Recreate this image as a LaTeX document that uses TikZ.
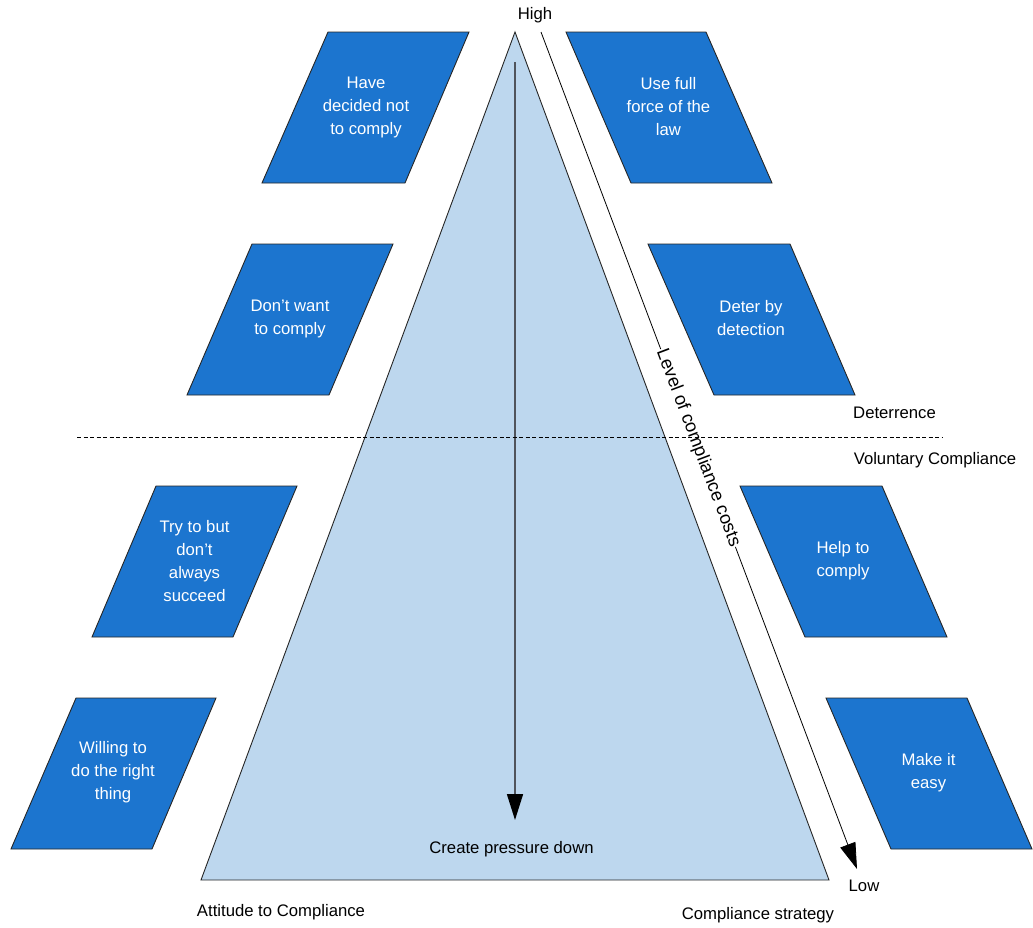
\documentclass[tikz,border=0pt]{standalone}
\usepackage{fontspec}
\setmainfont{Liberation Sans}
\usetikzlibrary{arrows.meta}
\definecolor{boxblue}{RGB}{28,117,207}
\definecolor{trifill}{RGB}{189,215,238}
\definecolor{arrowgrey}{RGB}{80,84,92}
\tikzset{
  pbox/.style={fill=boxblue,draw=black!85,line width=0.9pt,line join=miter},
  boxtext/.style={text=white,align=center,font=\fontsize{16.7}{23}\selectfont},
  lbl/.style={text=black,font=\fontsize{16.7}{20}\selectfont,inner sep=0pt},
  tri/.style={fill=trifill,draw=black!85,line width=0.9pt},
  bigtip/.style={-{Triangle[length=26pt,width=16pt,color=black]}}
}
\begin{document}
\begin{tikzpicture}[x=1pt,y=-1pt]
\useasboundingbox (0,0) rectangle (1033,927);
% triangle
\path[tri] (515,32) -- (829,880) -- (201,880) -- cycle;
% left parallelograms
\path[pbox] (328,32) -- (469,32) -- (405,183) -- (262,183) -- cycle;
\path[pbox] (252,244) -- (393,244) -- (329,395) -- (187,395) -- cycle;
\path[pbox] (156,486) -- (297,486) -- (233,637) -- (92,637) -- cycle;
\path[pbox] (76,698) -- (216,698) -- (152,849) -- (11,849) -- cycle;
% right parallelograms
\path[pbox] (566,32) -- (706,32) -- (772,183) -- (631,183) -- cycle;
\path[pbox] (648,244) -- (790,244) -- (855,395) -- (714,395) -- cycle;
\path[pbox] (740,486) -- (882,486) -- (947,637) -- (805,637) -- cycle;
\path[pbox] (826,698) -- (967,698) -- (1032,849) -- (891,849) -- cycle;
% box texts
\node[boxtext] (t1) at (366,107) {Have\\decided not\\to comply};
\node[boxtext] (t2) at (290,318.5) {Don’t want\\to comply};
\node[boxtext] (t3) at (194.5,561) {Try to but\\don’t\\always\\succeed};
\node[boxtext] (t4) at (113,772.5) {Willing to\\do the right\\thing};
\node[boxtext] (t5) at (668.5,107) {Use full\\force of the\\law};
\node[boxtext] (t6) at (751,318.5) {Deter by\\detection};
\node[boxtext] (t7) at (843,561) {Help to\\comply};
\node[boxtext] (t8) at (928.5,773) {Make it\\easy};
% labels
\node[lbl] (high) at (535,15) {High};
\node[lbl] (low) at (864,886) {Low};
\node[lbl] (det) at (894.5,413) {Deterrence};
\node[lbl] (vol) at (935,460.5) {Voluntary Compliance};
\node[lbl] (att) at (281,912) {Attitude to Compliance};
\node[lbl] (strat) at (758,915) {Compliance strategy};
\node[lbl] (press) at (511.5,849) {Create pressure down};
% vertical arrow
\coordinate (vs) at (515,62);
\coordinate (ve) at (515,820);
\draw[arrowgrey,line width=1.6pt,bigtip] (vs) -- (ve);
% diagonal arrow
\coordinate (ds) at (541,32);
\coordinate (de) at (857,869);
\draw[black,line width=0.8pt,bigtip] (ds) -- node[pos=0.497,sloped,fill=white,inner sep=0.8pt,font=\fontsize{18.3}{20}\selectfont] (cost) {Level of compliance costs} (de);
% dashed separator
\coordinate (dl) at (77,437.5);
\coordinate (dr) at (943,437.5);
\draw[black,line width=0.8pt,dash pattern=on 4pt off 2.5pt] (dl) -- (dr);
\end{tikzpicture}
\end{document}
